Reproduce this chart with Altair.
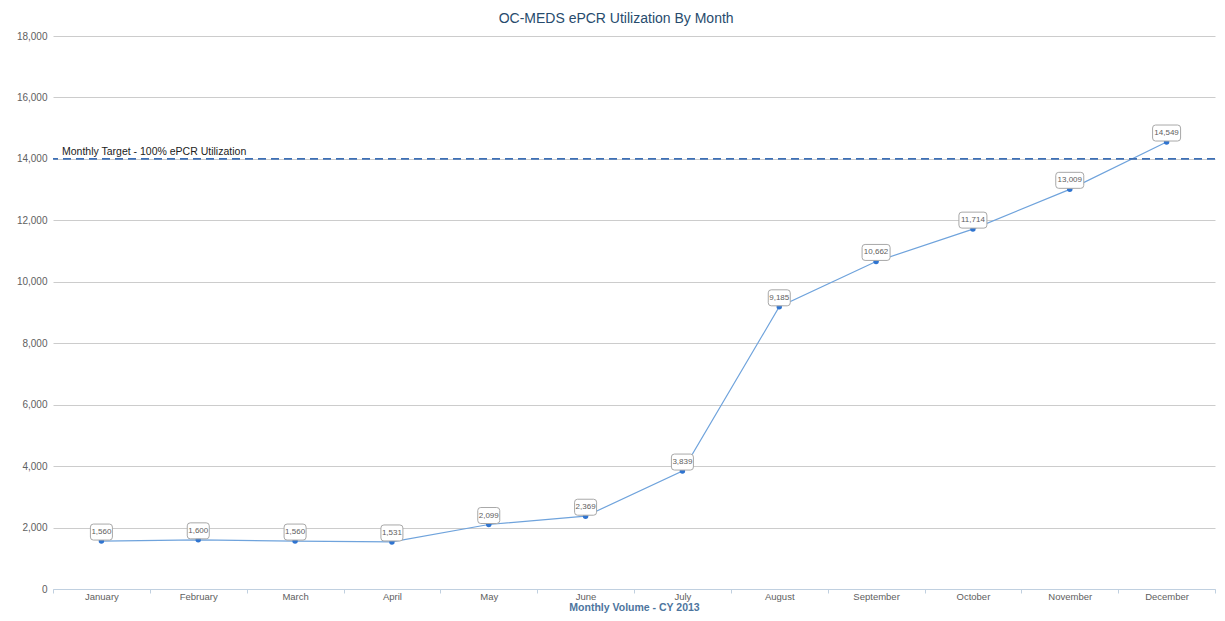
import altair as alt
import pandas as pd

months = ["January", "February", "March", "April", "May", "June", "July",
          "August", "September", "October", "November", "December"]
volumes = [1560, 1600, 1560, 1531, 2099, 2369, 3839, 9185, 10662, 11714, 13009, 14549]
target_value = [14000]
target_label = ["Monthly Target - 100% ePCR Utilization"]
y_ticks = [0, 2000, 4000, 6000, 8000, 10000, 12000, 14000, 16000, 18000]

df = pd.DataFrame({"month": months, "volume": volumes})
df["label"] = [f"{v:,}" for v in volumes]
tdf = pd.DataFrame({"volume": target_value, "label": target_label})

FONT = "Liberation Sans"

x_enc = alt.X(
    "month:N", sort=months,
    scale=alt.Scale(paddingInner=0, paddingOuter=0),
    axis=alt.Axis(
        title="Monthly Volume - CY 2013", labelAngle=0, tickBand="extent",
        domainColor="#C0D0E0", tickColor="#C0D0E0", tickSize=4, labelPadding=-2,
        labelColor="#606060", labelFontSize=9.5, labelFont=FONT, labelBaseline="top",
        titleColor="#4d759e", titleFontSize=10.5, titleFont=FONT, titleFontWeight="bold",
        titleY=23, titleBaseline="bottom", grid=False, zindex=1,
    ),
)
y_enc = alt.Y(
    "volume:Q",
    scale=alt.Scale(domain=[0, 18000], nice=False),
    axis=alt.Axis(
        title=None, values=y_ticks, format=",d", domain=False, ticks=False,
        labelPadding=6, labelColor="#606060", labelFontSize=10, labelFont=FONT,
        gridColor="#CCCCCC", gridWidth=1, labelBaseline="middle",
    ),
)

base = alt.Chart(df)

line = base.mark_line(color="#6fa3dc", strokeWidth=1.2).encode(x=x_enc, y=y_enc)

rule = alt.Chart(tdf).mark_rule(color="#3d6fb5", strokeWidth=1.6, strokeDash=[8, 5]).encode(
    y=y_enc
)
rule_text = alt.Chart(tdf).mark_text(
    align="left", baseline="bottom", dy=-2, fontSize=10.5, font=FONT, color="#222222"
).encode(x=alt.value(9), y=y_enc, text="label:N")

points = base.mark_point(filled=True, color="#2f74d0", size=30, opacity=1, shape="circle").encode(
    x=x_enc, y=y_enc
)

# rounded boxes: 22x16 px and 28x16 px
shape_small = ("M-0.727,-0.727 H0.727 Q1,-0.727 1,-0.455 V0.455 Q1,0.727 0.727,0.727 "
               "H-0.727 Q-1,0.727 -1,0.455 V-0.455 Q-1,-0.727 -0.727,-0.727 Z")
shape_large = ("M-0.786,-0.571 H0.786 Q1,-0.571 1,-0.357 V0.357 Q1,0.571 0.786,0.571 "
               "H-0.786 Q-1,0.571 -1,0.357 V-0.357 Q-1,-0.571 -0.786,-0.571 Z")

box_small = base.transform_filter(alt.datum.volume < 10000).mark_point(
    shape=shape_small, size=484, filled=True, fill="white", stroke="#a8a8a8",
    strokeWidth=1, opacity=1, yOffset=-9,
).encode(x=x_enc, y=y_enc)
box_large = base.transform_filter(alt.datum.volume >= 10000).mark_point(
    shape=shape_large, size=784, filled=True, fill="white", stroke="#a8a8a8",
    strokeWidth=1, opacity=1, yOffset=-9,
).encode(x=x_enc, y=y_enc)

labels = base.mark_text(
    fontSize=8, font=FONT, color="#606060", baseline="middle", dy=-9
).encode(x=x_enc, y=y_enc, text="label:N")

chart = alt.layer(line, rule, rule_text, points, box_small, box_large, labels).properties(
    width=1162, height=553,
    background="white",
    title=alt.TitleParams(
        "OC-MEDS ePCR Utilization By Month", fontSize=14, font=FONT,
        color="#274b6d", fontWeight="normal", anchor="middle", frame="bounds", offset=5,
    ),
    autosize=alt.AutoSizeParams(type="none"),
    padding={"left": 45, "top": 28, "right": 2, "bottom": 24},
).configure_view(stroke=None, strokeWidth=0)

chart.save("out.html", embed_options={"renderer": "svg", "actions": False})
